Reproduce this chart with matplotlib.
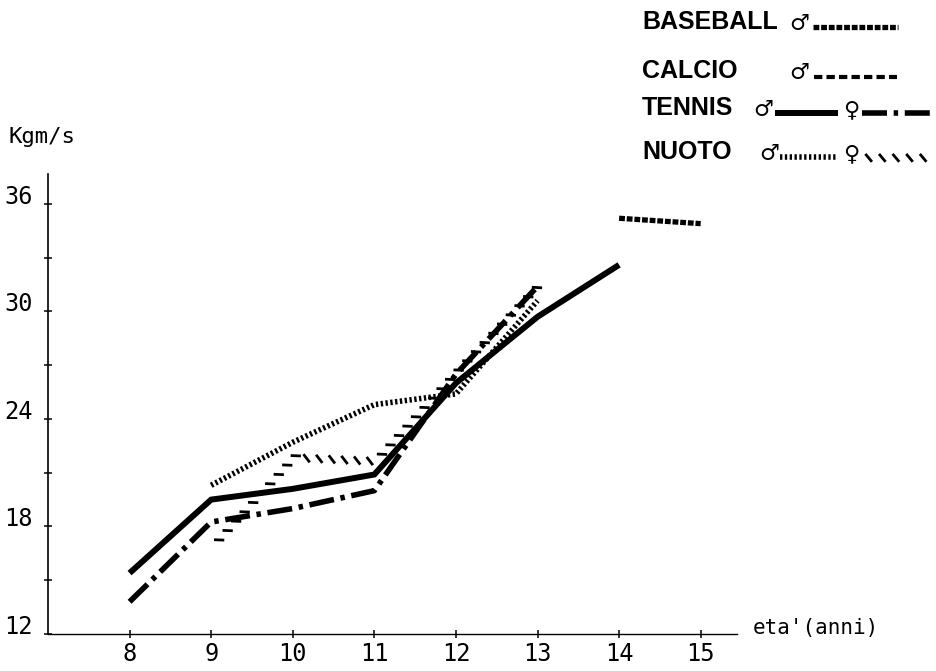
import matplotlib
matplotlib.use("Agg")
import matplotlib.pyplot as plt
import matplotlib.patheffects as pe
from matplotlib.lines import Line2D
import numpy as np

nan = np.nan

# potenza (Kgm/s) per eta'
eta = [8, 9, 10, 11, 12, 13, 14, 15]
tennis_m = [15.4, 19.5, 20.1, 20.9, 26.0, 29.7, 32.6, nan]
tennis_f = [13.8, 18.25, 19.0, 20.0, 26.5, 31.4, nan, nan]
nuoto_m = [nan, 20.3, 22.7, 24.8, 25.4, 30.6, nan, nan]
nuoto_f = [nan, 17.0, 22.0, 21.8, 26.8, 31.6, nan, nan]
baseball_m = [nan, nan, nan, nan, nan, nan, 35.2, 34.9]

y_ticks = [12, 15, 18, 21, 24, 27, 30, 33, 36]
y_labels = ["12", "", "18", "", "24", "", "30", "", "36"]
x_labels = ["8", "9", "10", "11", "12", "13", "14", "15"]

W, H = 936, 671
plotter = "DejaVu Sans Mono"
bold = ["Liberation Sans", "DejaVu Sans"]

# stili delle curve
st_tennis_m = dict(color="black", lw=4.3, solid_capstyle="butt", solid_joinstyle="miter")
st_tennis_f = dict(color="black", lw=4.0, linestyle=(0, (4.5, 1.2, 0.8, 1.2)),
                   dash_capstyle="butt")
st_nuoto_m = dict(color="black", lw=4.0, linestyle=(0, (0.42, 0.45)), dash_capstyle="butt")
st_baseball = dict(color="black", lw=3.8, linestyle=(0, (1.1, 0.35)), dash_capstyle="butt")
st_calcio = dict(color="black", lw=3.0, linestyle=(0, (2.0, 1.0)), dash_capstyle="butt")
hatch = [pe.TickedStroke(spacing=9, angle=-50, length=0.6, linewidth=2.0)]


def valid(xs, ys):
    xs, ys = np.asarray(xs, float), np.asarray(ys, float)
    ok = ~np.isnan(ys)
    return xs[ok], ys[ok]


fig = plt.figure(figsize=(W / 100, H / 100), dpi=100)
ax = fig.add_axes([48 / W, 37 / H, 689 / W, 460 / H])

ax.plot(eta, tennis_m, **st_tennis_m)
ax.plot(eta, tennis_f, **st_tennis_f)
ax.plot(eta, nuoto_m, **st_nuoto_m)
ax.plot(*valid(eta, nuoto_f), color="black", lw=2.0, path_effects=hatch)
ax.plot(eta, baseball_m, **st_baseball)

ax.set_xlim(7, 15.445)
ax.set_ylim(12, 37.67)
ax.spines["top"].set_visible(False)
ax.spines["right"].set_visible(False)
ax.spines["left"].set_linewidth(1.2)
ax.spines["bottom"].set_linewidth(1.0)

ax.set_xticks(eta)
ax.set_xticklabels(x_labels, fontfamily=plotter, fontsize=17)
ax.set_yticks(y_ticks)
ax.set_yticklabels(y_labels, fontfamily=plotter, fontsize=17)
for lab in ax.get_yticklabels():
    lab.set_va("baseline")
ax.tick_params(direction="inout", length=6, width=1.1)
ax.tick_params(axis="y", pad=8)
ax.tick_params(axis="x", pad=3)

fig.text(753 / W, 1 - 628 / H, "eta'(anni)", fontfamily=plotter, fontsize=15,
         va="center", ha="left")
fig.text(8 / W, 1 - 143 / H, "Kgm/s", fontfamily=plotter, fontsize=16,
         va="baseline", ha="left")


def fx(px):
    return px / W


def fy(py):
    return 1 - py / H


def label(x, y, s):
    fig.text(fx(x), fy(y), s, fontfamily=bold, fontweight="bold", fontsize=18,
             va="baseline", ha="left")


def sex(x, y, s):
    fig.text(fx(x), fy(y), s, fontfamily="DejaVu Sans", fontsize=16,
             va="baseline", ha="left")


def sample(x0, x1, y, **kw):
    fig.add_artist(Line2D([fx(x0), fx(x1)], [fy(y), fy(y)], transform=fig.transFigure, **kw))


# legenda
label(642, 29, "BASEBALL")
sex(789, 30, "\u2642")
sample(813, 898, 27, **st_baseball)

label(642, 78, "CALCIO")
sex(789, 79, "\u2642")
sample(814, 897, 77, **st_calcio)

label(642, 115, "TENNIS")
sex(753, 116, "\u2642")
sample(775, 838, 113, **st_tennis_m)
sex(843, 116, "\u2640")
sample(862, 930, 113, **st_tennis_f)

label(642, 159, "NUOTO")
sex(759, 160, "\u2642")
sample(780, 838, 157, **st_nuoto_m)
sex(843, 160, "\u2640")
sample(860, 927, 155, color="black", lw=2.0, path_effects=hatch)

fig.savefig("out.png", dpi=100)
